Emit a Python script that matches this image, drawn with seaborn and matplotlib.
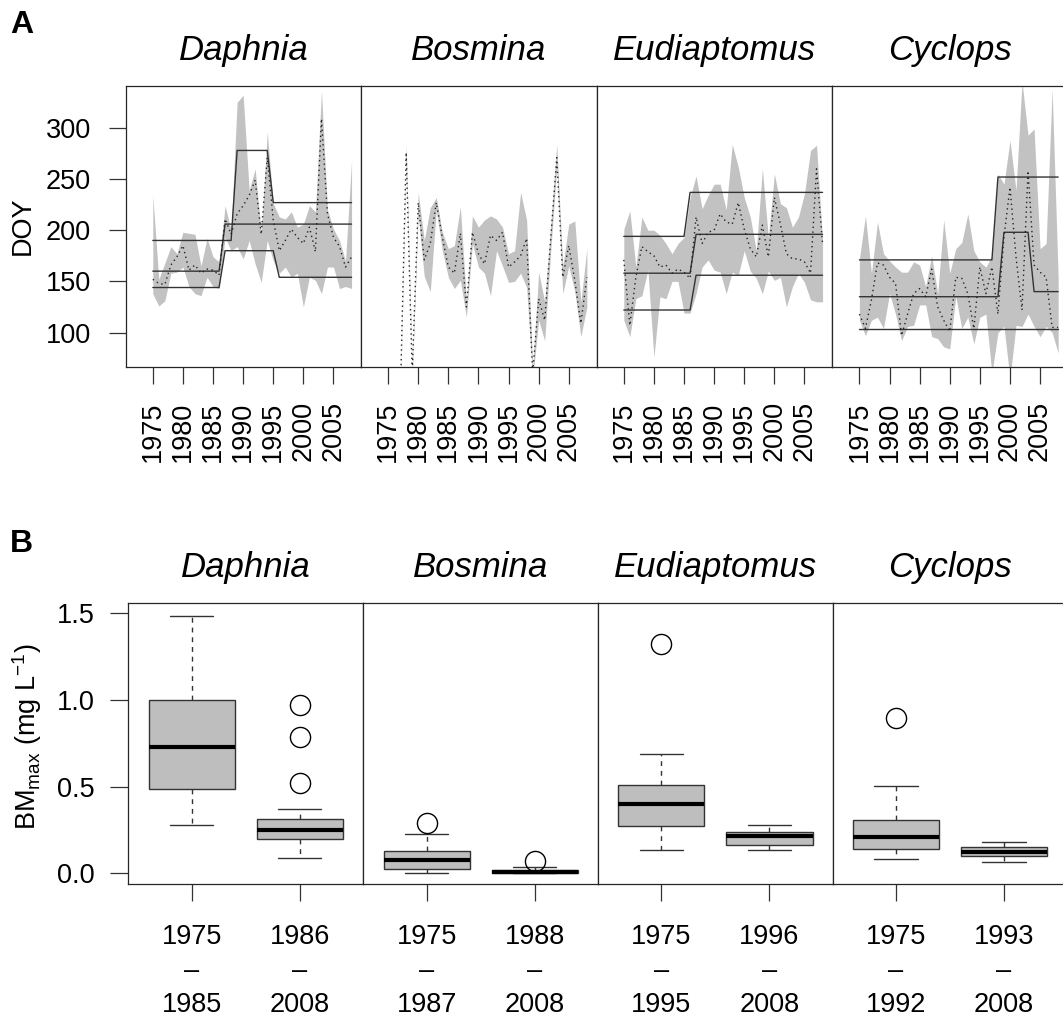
import numpy as np
import matplotlib
matplotlib.use("Agg")
import matplotlib.pyplot as plt
import seaborn as sns

sns.set_style("ticks")
plt.rcParams["font.family"] = ["Liberation Sans", "DejaVu Sans"]
plt.rcParams["mathtext.fontset"] = "custom"
plt.rcParams["mathtext.rm"] = "Liberation Sans"
plt.rcParams["mathtext.it"] = "Liberation Sans:italic"
plt.rcParams["text.color"] = "black"
plt.rcParams["axes.labelcolor"] = "black"
plt.rcParams["xtick.labelcolor"] = "black"
plt.rcParams["ytick.labelcolor"] = "black"

# ---------------------------------------------------------------- data (A)
years = list(range(1975, 2009))
species = ["Daphnia", "Bosmina", "Eudiaptomus", "Cyclops"]
nan = np.nan

# day of year of the seasonal peak: median and 95% band
daphnia_med = [152, 148, 147, 166, 174, 185, 161, 166, 158, 162, 161, 156, 211, 196, 216, 224, 234,
               249, 196, 271, 210, 180, 190, 201, 193, 187, 203, 179, 309, 216, 193, 184, 164, 174]
daphnia_lo = [138, 126, 131, 158, 159, 164, 145, 138, 136, 154, 145, 143, 193, 180, 184, 172, 190,
              167, 149, 190, 170, 158, 164, 154, 158, 125, 154, 151, 138, 164, 164, 143, 145, 143]
daphnia_hi = [234, 152, 168, 184, 177, 198, 197, 196, 165, 192, 174, 169, 224, 200, 325, 332, 239,
              260, 197, 296, 226, 213, 211, 218, 203, 206, 224, 218, 336, 220, 201, 190, 170, 268]

bosmina_med = [nan, nan, 30, 276, 60, 227, 171, 187, 227, 193, 164, 158, 197, 125, 198, 177, 167,
               195, 190, 198, 164, 169, 175, 192, 60, 133, 112, 192, 271, 154, 185, 151, 109, 154]
bosmina_lo = [nan, nan, 25, 268, 55, 215, 155, 140, 220, 180, 154, 143, 151, 115, 187, 164, 158,
              136, 180, 165, 149, 150, 158, 144, 55, 112, 92, 180, 262, 138, 165, 140, 96, 125]
bosmina_hi = [nan, nan, 32, 284, 63, 237, 190, 222, 232, 198, 182, 185, 223, 130, 214, 203, 210,
              214, 211, 203, 177, 180, 237, 210, 65, 159, 130, 205, 284, 165, 206, 209, 130, 182]

eudiaptomus_med = [171, 107, 154, 184, 179, 175, 164, 166, 158, 162, 159, 153, 213, 187, 198, 200, 216,
                   208, 206, 227, 201, 182, 174, 205, 174, 232, 206, 177, 172, 172, 169, 158, 260, 187]
eudiaptomus_lo = [112, 96, 133, 136, 161, 76, 135, 133, 150, 150, 119, 119, 138, 164, 171, 161, 159,
                  138, 159, 156, 180, 160, 153, 138, 160, 151, 154, 125, 145, 158, 149, 132, 130, 130]
eudiaptomus_hi = [201, 219, 164, 213, 200, 200, 195, 187, 177, 187, 193, 232, 253, 221, 234, 245, 245,
                  220, 284, 262, 232, 213, 180, 260, 193, 255, 226, 222, 203, 213, 236, 278, 283, 190]

cyclops_med = [118, 104, 132, 168, 166, 154, 148, 97, 118, 138, 143, 135, 162, 125, 112, 101, 154,
               153, 138, 104, 164, 138, 164, 118, 193, 242, 174, 122, 258, 166, 159, 154, 105, 105]
cyclops_lo = [112, 97, 112, 115, 104, 138, 118, 92, 106, 107, 127, 127, 96, 94, 86, 84, 135,
              104, 115, 89, 115, 118, 60, 100, 106, 55, 107, 106, 118, 106, 96, 106, 100, 80]
cyclops_hi = [172, 214, 158, 208, 177, 170, 164, 159, 159, 169, 166, 145, 175, 138, 210, 158, 182,
              188, 216, 180, 169, 164, 175, 255, 245, 288, 239, 345, 293, 299, 182, 187, 338, 154]

# breakpoint fits (lower, central, upper)
daphnia_fit_lo = [144, 144, 144, 144, 144, 144, 144, 144, 144, 144, 144, 144, 180, 180, 180, 180, 180,
                  180, 180, 180, 180, 154, 154, 154, 154, 154, 154, 154, 154, 154, 154, 154, 154, 154]
daphnia_fit_mid = [160, 160, 160, 160, 160, 160, 160, 160, 160, 160, 160, 160, 206, 206, 206, 206, 206,
                   206, 206, 206, 206, 206, 206, 206, 206, 206, 206, 206, 206, 206, 206, 206, 206, 206]
daphnia_fit_hi = [190, 190, 190, 190, 190, 190, 190, 190, 190, 190, 190, 190, 190, 190, 278, 278, 278,
                  278, 278, 278, 227, 227, 227, 227, 227, 227, 227, 227, 227, 227, 227, 227, 227, 227]

eudiaptomus_fit_lo = [122, 122, 122, 122, 122, 122, 122, 122, 122, 122, 122, 122, 156, 156, 156, 156, 156,
                      156, 156, 156, 156, 156, 156, 156, 156, 156, 156, 156, 156, 156, 156, 156, 156, 156]
eudiaptomus_fit_mid = [158, 158, 158, 158, 158, 158, 158, 158, 158, 158, 158, 158, 196, 196, 196, 196, 196,
                       196, 196, 196, 196, 196, 196, 196, 196, 196, 196, 196, 196, 196, 196, 196, 196, 196]
eudiaptomus_fit_hi = [194, 194, 194, 194, 194, 194, 194, 194, 194, 194, 194, 237, 237, 237, 237, 237, 237,
                      237, 237, 237, 237, 237, 237, 237, 237, 237, 237, 237, 237, 237, 237, 237, 237, 237]

cyclops_fit_lo = [103, 103, 103, 103, 103, 103, 103, 103, 103, 103, 103, 103, 103, 103, 103, 103, 103,
                  103, 103, 103, 103, 103, 103, 103, 103, 103, 103, 103, 103, 103, 103, 103, 103, 103]
cyclops_fit_mid = [135, 135, 135, 135, 135, 135, 135, 135, 135, 135, 135, 135, 135, 135, 135, 135, 135,
                   135, 135, 135, 135, 135, 135, 135, 198, 198, 198, 198, 198, 140, 140, 140, 140, 140]
cyclops_fit_hi = [171, 171, 171, 171, 171, 171, 171, 171, 171, 171, 171, 171, 171, 171, 171, 171, 171,
                  171, 171, 171, 171, 171, 171, 252, 252, 252, 252, 252, 252, 252, 252, 252, 252, 252]

doy_ticks = [100, 150, 200, 250, 300]
year_ticks = [1975, 1980, 1985, 1990, 1995, 2000, 2005]

# ---------------------------------------------------------------- data (B)
period_labels = [["1975\n–\n1985", "1986\n–\n2008"],
                 ["1975\n–\n1987", "1988\n–\n2008"],
                 ["1975\n–\n1995", "1996\n–\n2008"],
                 ["1975\n–\n1992", "1993\n–\n2008"]]
bm_whislo = [[0.279, 0.090], [0.000, 0.000], [0.135, 0.137], [0.081, 0.065]]
bm_q1 = [[0.487, 0.198], [0.027, 0.002], [0.275, 0.162], [0.140, 0.100]]
bm_med = [[0.729, 0.248], [0.077, 0.009], [0.398, 0.217], [0.208, 0.123]]
bm_q3 = [[0.998, 0.315], [0.131, 0.020], [0.512, 0.238], [0.306, 0.150]]
bm_whishi = [[1.487, 0.373], [0.227, 0.037], [0.690, 0.281], [0.506, 0.183]]
bm_fliers = [[[], [0.969, 0.788, 0.519]], [[0.288], [0.073]], [[1.321], []], [[0.896], []]]
bm_ticks = [0.0, 0.5, 1.0, 1.5]

# ---------------------------------------------------------------- styling
W, H = 1063, 1018
BAND = "#c2c2c2"
FRAME = "#262626"
LINE = "#333333"
FS = 19.5

fig = plt.figure(figsize=(W / 100, H / 100), dpi=100)


def panel(left, top, width, height):
    ax = fig.add_axes([left / W, 1 - (top + height) / H, width / W, height / H])
    for sp in ax.spines.values():
        sp.set_visible(True)
        sp.set_color(FRAME)
        sp.set_linewidth(0.9)
    return ax


series = {
    "Daphnia": (daphnia_lo, daphnia_med, daphnia_hi,
                [daphnia_fit_lo, daphnia_fit_mid, daphnia_fit_hi]),
    "Bosmina": (bosmina_lo, bosmina_med, bosmina_hi, []),
    "Eudiaptomus": (eudiaptomus_lo, eudiaptomus_med, eudiaptomus_hi,
                    [eudiaptomus_fit_lo, eudiaptomus_fit_mid, eudiaptomus_fit_hi]),
    "Cyclops": (cyclops_lo, cyclops_med, cyclops_hi,
                [cyclops_fit_lo, cyclops_fit_mid, cyclops_fit_hi]),
}

# ---------------------------------------------------------------- panel A
a_lefts = [125.7, 361.0, 596.7, 832.3]
for i, name in enumerate(species):
    lo, med, hi, fits = series[name]
    ax = panel(a_lefts[i], 86, 235.5, 281.3)
    ax.fill_between(years, lo, hi, color=BAND, linewidth=0, zorder=1)
    for fit in fits:
        sns.lineplot(x=years, y=fit, ax=ax, color=LINE, linewidth=1.0,
                     estimator=None, zorder=2)
    sns.lineplot(x=years, y=med, ax=ax, color="#222222", linewidth=1.0,
                 linestyle=(0, (1, 2.5)), estimator=None, zorder=3)
    ax.set_xlim(1970.5, 2009.6)
    ax.set_ylim(66, 341)
    ax.set_xlabel("")
    ax.set_ylabel("")
    ax.set_xticks(year_ticks)
    ax.set_xticklabels([str(y) for y in year_ticks], rotation=90)
    ax.tick_params(axis="x", length=12, width=0.9, color=LINE, pad=12.5,
                   labelsize=FS, labelcolor="black")
    if i == 0:
        ax.set_yticks(doy_ticks)
        ax.tick_params(axis="y", length=12, width=0.9, color=LINE, pad=13,
                       labelsize=FS, labelcolor="black")
    else:
        ax.set_yticks([])
    ax.set_title(name, style="italic", fontsize=25, pad=18.5, color="black")

fig.text(23 / W, 1 - 226 / H, "DOY", rotation=90, fontsize=FS,
         ha="center", va="center", color="black")
fig.text(10 / W, 1 - 33 / H, "A", fontsize=23, fontweight="bold", va="baseline",
         color="black")

# ---------------------------------------------------------------- panel B
b_lefts = [128.3, 363.3, 597.8, 832.5]
for i, name in enumerate(species):
    ax = panel(b_lefts[i], 602.7, 235.0, 281.3)
    stats = []
    for j in range(2):
        stats.append(dict(med=bm_med[i][j], q1=bm_q1[i][j], q3=bm_q3[i][j],
                          whislo=bm_whislo[i][j], whishi=bm_whishi[i][j],
                          fliers=bm_fliers[i][j]))
    ax.bxp(stats, positions=[1, 2], widths=0.8, capwidths=0.4,
           patch_artist=True, showfliers=True,
           boxprops=dict(facecolor="#bebebe", edgecolor=LINE, linewidth=1.0),
           medianprops=dict(color="black", linewidth=3.0, solid_capstyle="butt"),
           whiskerprops=dict(color=LINE, linewidth=1.0, linestyle=(0, (3.5, 3.5))),
           capprops=dict(color=LINE, linewidth=1.0),
           flierprops=dict(marker="o", markerfacecolor="none",
                           markeredgecolor="black", markersize=14.5,
                           markeredgewidth=1.0))
    ax.set_xlim(0.413, 2.587)
    ax.set_ylim(-0.062, 1.561)
    ax.set_xticks([1, 2])
    ax.set_xticklabels(period_labels[i], linespacing=1.4)
    ax.tick_params(axis="x", length=12, width=0.9, color=LINE, pad=17,
                   labelsize=FS, labelcolor="black")
    if i == 0:
        ax.set_yticks(bm_ticks)
        ax.set_yticklabels([f"{v:.1f}" for v in bm_ticks])
        ax.tick_params(axis="y", length=13, width=0.9, color=LINE, pad=11.5,
                       labelsize=FS, labelcolor="black")
    else:
        ax.set_yticks([])
    ax.set_title(name, style="italic", fontsize=25, pad=18.5, color="black")

fig.text(27 / W, 1 - 737 / H, r"BM$_{\mathrm{max}}$ (mg L$^{-1}$)", rotation=90,
         fontsize=FS, ha="center", va="center", color="black")
fig.text(10 / W, 1 - 552 / H, "B", fontsize=23, fontweight="bold", va="baseline",
         color="black")

fig.savefig("out.png", dpi=100)
